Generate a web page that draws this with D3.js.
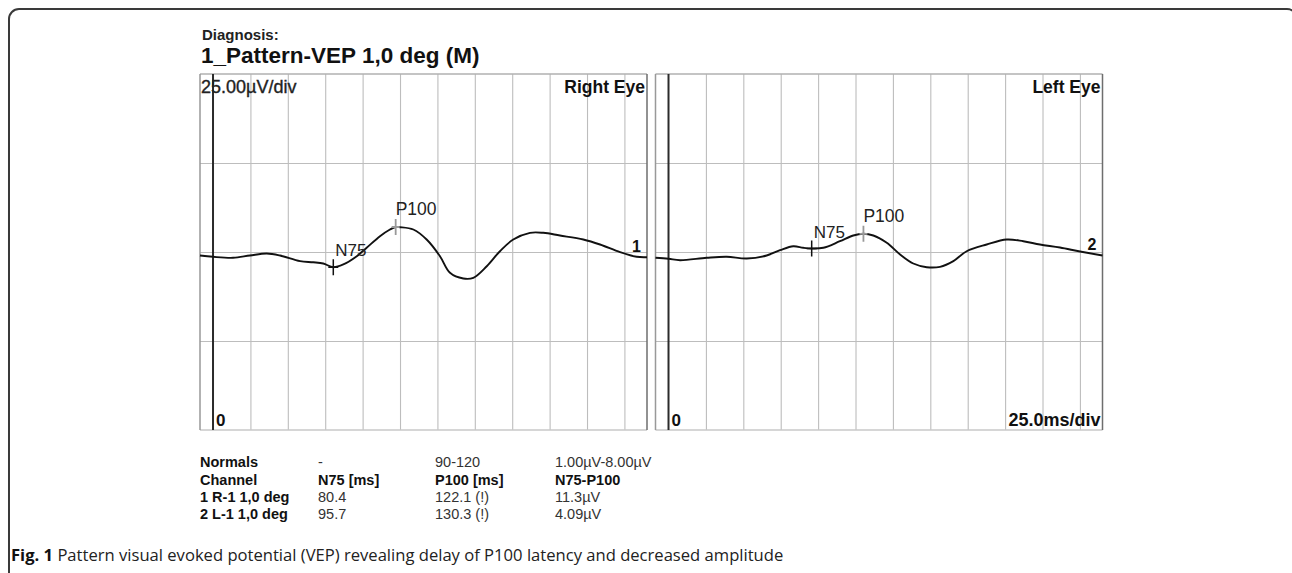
<!DOCTYPE html>
<html>
<head>
<meta charset="utf-8">
<script src="https://d3js.org/d3.v7.min.js"></script>
<style>
  body { margin: 0; background: #fff; }
  svg { display: block; font-family: "Liberation Sans", Arial, sans-serif; }
  .grid line { stroke: #bdbdbd; stroke-width: 1.1; }
  .grid path { display: none; }
</style>
</head>
<body>
<svg id="chart"></svg>
<script>
// time (ms) and amplitude (uV) of each trace
var tRight = [-8.7, 0, 13.4, 24.7, 35.9, 44.8, 58.2, 67.0, 73.7, 80.4, 87.1, 96.1, 102.7, 111.6, 118.3, 122.1, 125.0, 133.9, 142.8, 151.7, 158.4, 167.3, 174.0, 183.0, 191.8, 200.7, 211.9, 220.8, 231.9, 247.5, 258.7, 272.1, 283.2, 290.1];
var vRight = [-0.98, -1.35, -1.63, -0.98, -0.42, -0.98, -2.58, -2.87, -3.23, -4.27, -3.51, -1.18, 1.18, 4.44, 6.32, 7.02, 6.97, 6.32, 3.51, -1.18, -5.84, -7.44, -7.25, -3.99, 0.22, 3.51, 5.39, 5.39, 4.63, 3.51, 2.11, -0.06, -1.35, -1.46];
var tLeft = [-8.7, 0, 7.7, 25.5, 38.9, 52.3, 65.6, 74.5, 83.4, 90.1, 95.7, 103.5, 114.6, 123.5, 130.3, 136.9, 145.9, 154.8, 163.6, 172.6, 181.5, 190.4, 199.3, 212.7, 226.1, 237.2, 248.3, 261.7, 275.1, 290.1];
var vLeft = [-1.63, -1.91, -2.30, -1.63, -1.35, -1.83, -0.98, 0.51, 1.63, 1.18, 0.98, 1.18, 3.03, 4.63, 5.11, 4.63, 2.58, -0.70, -3.23, -4.27, -4.16, -2.58, 0.22, 2.11, 3.51, 3.03, 2.11, 1.26, 0.14, -0.98];

// peak markers: latency (ms) and amplitude (uV)
var n75Lat = [80.4, 95.7];
var n75Amp = [-4.27, 0.98];
var p100Lat = [122.1, 130.3];
var p100Amp = [7.02, 5.11];

var eyeNames = ["Right Eye", "Left Eye"];
var channelNames = ["1", "2"];

var xTicks = [25, 50, 75, 100, 125, 150, 175, 200, 225, 250, 275];
var yTicks = [-25, 0, 25];

// result table
var tableCols = ["", "N75 [ms]", "P100 [ms]", "N75-P100"];
var normals = ["Normals", "-", "90-120", "1.00\u00b5V-8.00\u00b5V"];
var rowLabels = ["1 R-1 1,0 deg", "2 L-1 1,0 deg"];
var n75Vals = ["80.4", "95.7"];
var p100Vals = ["122.1 (!)", "130.3 (!)"];
var ampVals = ["11.3\u00b5V", "4.09\u00b5V"];

var W = 1292, H = 573;
var svg = d3.select("#chart").attr("width", W).attr("height", H);

// outer frame
svg.append("rect")
  .attr("x", 9).attr("y", 9).attr("width", 1288).attr("height", 640)
  .attr("rx", 10)
  .attr("fill", "none").attr("stroke", "#3a3a3a").attr("stroke-width", 2);

svg.append("text").attr("x", 202).attr("y", 40)
  .style("font-size", "15px").style("font-weight", "bold").attr("fill", "#222")
  .text("Diagnosis:");
svg.append("text").attr("x", 201).attr("y", 63)
  .style("font-size", "22.5px").style("font-weight", "bold").attr("fill", "#111")
  .text("1_Pattern-VEP 1,0 deg (M)");

var panelTop = 74, panelH = 356, panelW = 447;
var panelX = [200, 655.5];

var x = d3.scaleLinear().domain([-8.7, 290.1]).range([0, panelW]);
var y = d3.scaleLinear().domain([-50, 50]).range([panelH, 0]);

var line = d3.line()
  .x(function (d) { return x(d[0]); })
  .y(function (d) { return y(d[1]); })
  .curve(d3.curveCatmullRom);

var traces = [d3.zip(tRight, vRight), d3.zip(tLeft, vLeft)];

panelX.forEach(function (px, i) {
  var g = svg.append("g").attr("transform", "translate(" + px + "," + panelTop + ")");

  g.append("g").attr("class", "grid")
    .call(d3.axisBottom(x).tickValues(xTicks).tickSize(panelH).tickFormat(""))
    .selectAll("line").attr("y1", 0).attr("y2", panelH);

  g.append("g").attr("class", "grid")
    .call(d3.axisLeft(y).tickValues(yTicks).tickSize(-panelW).tickFormat(""));

  // frame
  g.append("line").attr("x1", 0).attr("x2", panelW).attr("y1", 0).attr("y2", 0)
    .attr("stroke", "#b0b0b0").attr("stroke-width", 1.5);
  g.append("line").attr("x1", 0).attr("x2", panelW).attr("y1", panelH).attr("y2", panelH)
    .attr("stroke", "#c8c8c8").attr("stroke-width", 1.5);
  g.append("line").attr("x1", 0).attr("x2", 0).attr("y1", 0).attr("y2", panelH)
    .attr("stroke", "#999").attr("stroke-width", 1.5);
  g.append("line").attr("x1", panelW).attr("x2", panelW).attr("y1", 0).attr("y2", panelH)
    .attr("stroke", "#6e6e6e").attr("stroke-width", 1.5);

  // zero time line
  g.append("line").attr("x1", x(0)).attr("x2", x(0)).attr("y1", 0).attr("y2", panelH)
    .attr("stroke", "#2b2b2b").attr("stroke-width", 2);

  g.append("path")
    .datum(traces[i])
    .attr("d", line)
    .attr("fill", "none").attr("stroke", "#111").attr("stroke-width", 1.9);

  // N75 marker
  var nx = x(n75Lat[i]), ny = y(n75Amp[i]);
  g.append("path")
    .attr("d", "M" + (nx - 5) + "," + ny + "H" + (nx + 5) + "M" + nx + "," + (ny - 8) + "V" + (ny + 8))
    .attr("stroke", "#111").attr("stroke-width", 1.5);
  g.append("text").attr("x", nx + 2).attr("y", ny - 11)
    .style("font-size", "17px").attr("fill", "#222").text("N75");

  // P100 marker
  var ppx = x(p100Lat[i]), ppy = y(p100Amp[i]);
  g.append("path")
    .attr("d", "M" + (ppx - 4) + "," + ppy + "H" + (ppx + 4) + "M" + ppx + "," + (ppy - 8) + "V" + (ppy + 8))
    .attr("stroke", "#999").attr("stroke-width", 1.8);
  g.append("text").attr("x", ppx).attr("y", ppy - 12)
    .style("font-size", "17.5px").attr("fill", "#222").text("P100");

  // labels
  g.append("text").attr("x", panelW - 2).attr("y", 19).attr("text-anchor", "end")
    .style("font-size", "17.5px").style("font-weight", "bold").attr("fill", "#111")
    .text(eyeNames[i]);
  g.append("text").attr("x", panelW - 6).attr("y", y(0) - (i ? 2 : 0)).attr("text-anchor", "end")
    .style("font-size", "16px").style("font-weight", "bold").attr("fill", "#111")
    .text(channelNames[i]);
  g.append("text").attr("x", x(0) + 3).attr("y", panelH - 4)
    .style("font-size", "17px").style("font-weight", "bold").attr("fill", "#111")
    .text("0");
  if (i === 0) {
    g.append("text").attr("x", 1).attr("y", 19)
      .style("font-size", "18px").attr("fill", "#222").attr("stroke", "#222").attr("stroke-width", 0.35)
      .text("25.00\u00b5V/div");
  } else {
    g.append("text").attr("x", panelW - 2).attr("y", panelH - 4).attr("text-anchor", "end")
      .style("font-size", "18px").style("font-weight", "bold").attr("fill", "#111")
      .text("25.0ms/div");
  }
});

// table
var colX = [200, 318, 435, 555];
var rowY = [467, 485, 502, 519];
var rows = [
  normals,
  ["Channel"].concat(tableCols.slice(1)),
  [rowLabels[0], n75Vals[0], p100Vals[0], ampVals[0]],
  [rowLabels[1], n75Vals[1], p100Vals[1], ampVals[1]]
];
rows.forEach(function (r, ri) {
  r.forEach(function (cell, ci) {
    var bold = ci === 0 || ri === 1;
    svg.append("text").attr("x", colX[ci]).attr("y", rowY[ri])
      .style("font-size", "14.5px")
      .style("font-weight", bold ? "bold" : "normal")
      .attr("fill", bold ? "#111" : "#333")
      .text(cell);
  });
});

// caption
var cap = svg.append("text").attr("x", 11).attr("y", 561)
  .style("font-family", "'Open Sans', 'Noto Sans', sans-serif")
  .style("font-size", "16.6px").attr("fill", "#222");
cap.append("tspan").style("font-weight", "bold").attr("fill", "#111").text("Fig. 1");
cap.append("tspan").text(" Pattern visual evoked potential (VEP) revealing delay of P100 latency and decreased amplitude");
</script>
</body>
</html>
